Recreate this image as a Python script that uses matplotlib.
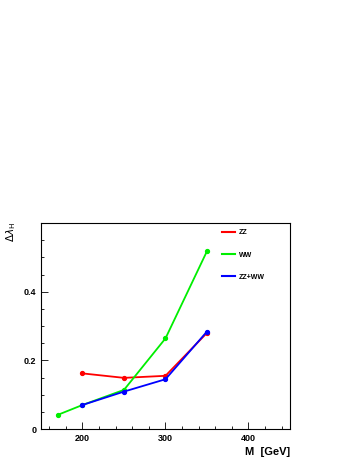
import matplotlib
matplotlib.use("Agg")
import matplotlib.pyplot as plt
from matplotlib.lines import Line2D
from matplotlib.ticker import MultipleLocator

plt.rcParams["font.family"] = ["Liberation Sans", "DejaVu Sans"]

# Data
mass_zz = [200, 250, 300, 350]
dl_zz = [0.162, 0.149, 0.155, 0.280]

mass_ww = [170, 200, 250, 300, 350]
dl_ww = [0.041, 0.070, 0.114, 0.264, 0.518]

mass_comb = [200, 250, 300, 350]
dl_comb = [0.070, 0.109, 0.145, 0.284]

series = [
    ("ZZ", mass_zz, dl_zz, "#ff0000"),
    ("WW", mass_ww, dl_ww, "#00ee00"),
    ("ZZ+WW", mass_comb, dl_comb, "#0000ff"),
]

fig = plt.figure(figsize=(3.58, 4.63), dpi=100)
ax = fig.add_axes([0.1145, 0.0734, 0.6955, 0.4449])

handles = []
for label, xs, ys, col in series:
    ax.plot(xs, ys, color=col, lw=1.3, marker="o", ms=2.8)
    handles.append(Line2D([], [], color=col, lw=1.5, label=label))

ax.set_xlim(150, 450)
ax.set_ylim(0, 0.6)
ax.xaxis.set_minor_locator(MultipleLocator(20))
ax.yaxis.set_minor_locator(MultipleLocator(0.05))
ax.set_xticks([200, 300, 400])
ax.set_yticks([0, 0.2, 0.4])
ax.set_yticklabels(["0", "0.2", "0.4"])
ax.tick_params(which="both", direction="in", top=False, right=False,
               labelsize=6.5, width=0.6)
ax.tick_params(which="major", length=5)
ax.tick_params(which="minor", length=2.5)
for lab in ax.get_xticklabels() + ax.get_yticklabels():
    lab.set_fontweight("bold")
for spine in ax.spines.values():
    spine.set_linewidth(0.8)

ax.legend(handles=handles, loc="upper left", bbox_to_anchor=(0.70, 1.0),
          frameon=False, handlelength=2.0, handletextpad=0.5,
          labelspacing=2.2, prop={"weight": "bold", "size": 5})

fig.text(0.81, 0.018, "M  [GeV]", ha="right", va="baseline",
         fontsize=8, fontweight="bold")
fig.text(0.03, 0.52, r"$\Delta\lambda_{\mathrm{H}}$", rotation=90,
         ha="center", va="top", fontsize=7.5)

fig.savefig("out.png", dpi=100, facecolor="white")
